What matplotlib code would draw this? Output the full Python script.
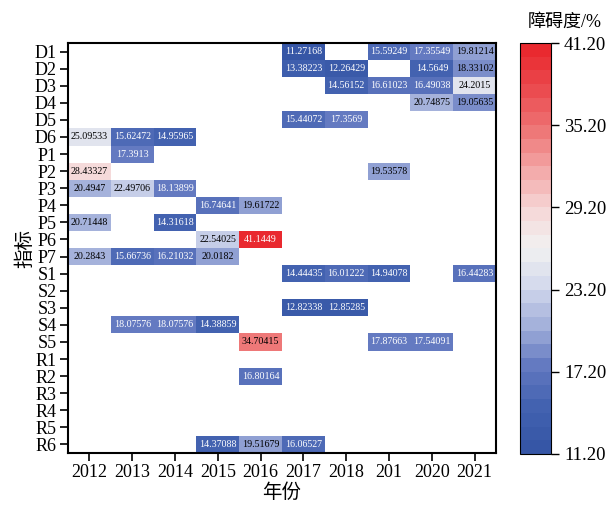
import numpy as np
import matplotlib
matplotlib.use("Agg")
import matplotlib.pyplot as plt
from matplotlib.colors import LinearSegmentedColormap, BoundaryNorm

plt.rcParams['font.family'] = ['Liberation Serif', 'Noto Sans CJK SC']

years = ["2012", "2013", "2014", "2015", "2016", "2017", "2018", "201", "2020", "2021"]
indicators = ["D1", "D2", "D3", "D4", "D5", "D6", "P1", "P2", "P3", "P4", "P5", "P6", "P7",
              "S1", "S2", "S3", "S4", "S5", "R1", "R2", "R3", "R4", "R5", "R6"]

n = np.nan
# obstacle degree (%) per indicator, one column per year
obstacle = np.array([
    [n, n, n, n, n, 11.27168, n, 15.59249, 17.35549, 19.81214],          # D1
    [n, n, n, n, n, 13.38223, 12.26429, n, 14.5649, 18.33102],           # D2
    [n, n, n, n, n, n, 14.56152, 16.61023, 16.49038, 24.2015],           # D3
    [n, n, n, n, n, n, n, n, 20.74875, 19.05635],                        # D4
    [n, n, n, n, n, 15.44072, 17.3569, n, n, n],                         # D5
    [25.09533, 15.62472, 14.95965, n, n, n, n, n, n, n],                 # D6
    [n, 17.3913, n, n, n, n, n, n, n, n],                                # P1
    [28.43327, n, n, n, n, n, n, 19.53578, n, n],                        # P2
    [20.4947, 22.49706, 18.13899, n, n, n, n, n, n, n],                  # P3
    [n, n, n, 16.74641, 19.61722, n, n, n, n, n],                        # P4
    [20.71448, n, 14.31618, n, n, n, n, n, n, n],                        # P5
    [n, n, n, 22.54025, 41.1449, n, n, n, n, n],                         # P6
    [20.2843, 15.66736, 16.21032, 20.0182, n, n, n, n, n, n],            # P7
    [n, n, n, n, n, 14.44435, 16.01222, 14.94078, n, 16.44283],          # S1
    [n, n, n, n, n, n, n, n, n, n],                                      # S2
    [n, n, n, n, n, 12.82338, 12.85285, n, n, n],                        # S3
    [n, 18.07576, 18.07576, 14.38859, n, n, n, n, n, n],                 # S4
    [n, n, n, n, 34.70415, n, n, 17.87663, 17.54091, n],                 # S5
    [n, n, n, n, n, n, n, n, n, n],                                      # R1
    [n, n, n, n, 16.80164, n, n, n, n, n],                               # R2
    [n, n, n, n, n, n, n, n, n, n],                                      # R3
    [n, n, n, n, n, n, n, n, n, n],                                      # R4
    [n, n, n, n, n, n, n, n, n, n],                                      # R5
    [n, n, n, 14.37088, 19.51679, 16.06527, n, n, n, n],                 # R6
])

vmin, vmax = 11.2, 41.2
cb_ticks = [11.2, 17.2, 23.2, 29.2, 35.2, 41.2]
cmap = LinearSegmentedColormap.from_list("bwr_obs", [
    (0.0, "#3656a6"), (0.1, "#4262b0"), (0.2, "#6278c0"), (0.3, "#a0aed9"),
    (0.4, "#d2d8ec"), (0.5, "#f1f1f1"), (0.6, "#f6d6d6"), (0.7, "#f3a5a5"),
    (0.8, "#ee7474"), (0.9, "#eb4a4e"), (1.0, "#e9282e"),
])
bounds = np.arange(vmin, vmax + 0.5, 1.0)
norm = BoundaryNorm(bounds, cmap.N)

fig = plt.figure(figsize=(6.14, 5.12), dpi=100)
ax = fig.add_axes([0.1107, 0.1152, 0.6971, 0.8008])
cax = fig.add_axes([0.847, 0.1133, 0.05, 0.8027])

mesh = ax.pcolormesh(np.arange(len(years) + 1), np.arange(len(indicators) + 1),
                     np.ma.masked_invalid(obstacle), cmap=cmap, norm=norm)
ax.set_xlim(0, len(years))
ax.set_ylim(len(indicators), 0)

for i in range(len(indicators)):
    for j in range(len(years)):
        v = obstacle[i, j]
        if np.isnan(v):
            continue
        color = "black" if 18.2 < v < 38 else "white"
        ax.text(j + 0.5, i + 0.5, f"{float(v)}", ha="center", va="center",
                fontsize=7.2, color=color)

ax.set_xticks(np.arange(len(years)) + 0.5)
ax.set_xticklabels(years, fontsize=13)
ax.set_yticks(np.arange(len(indicators)) + 0.5)
ax.set_yticklabels(indicators, fontsize=13)
ax.tick_params(direction="out", length=6, width=1.2, pad=2)
for s in ax.spines.values():
    s.set_linewidth(1.5)

ax.set_xlabel("年份", fontsize=14, labelpad=2)
ax.set_ylabel("指标", fontsize=14, labelpad=0)

cb = fig.colorbar(mesh, cax=cax, ticks=cb_ticks)
cb.ax.minorticks_off()
cb.ax.set_yticklabels([f"{t:.2f}" for t in cb_ticks], fontsize=13.5)
cb.ax.tick_params(direction="out", length=6, width=1.0)
cb.outline.set_linewidth(0.8)
fig.text(0.92, 0.957, "障碍度/%", ha="center", va="center", fontsize=13)

fig.savefig("out.png", dpi=100)
